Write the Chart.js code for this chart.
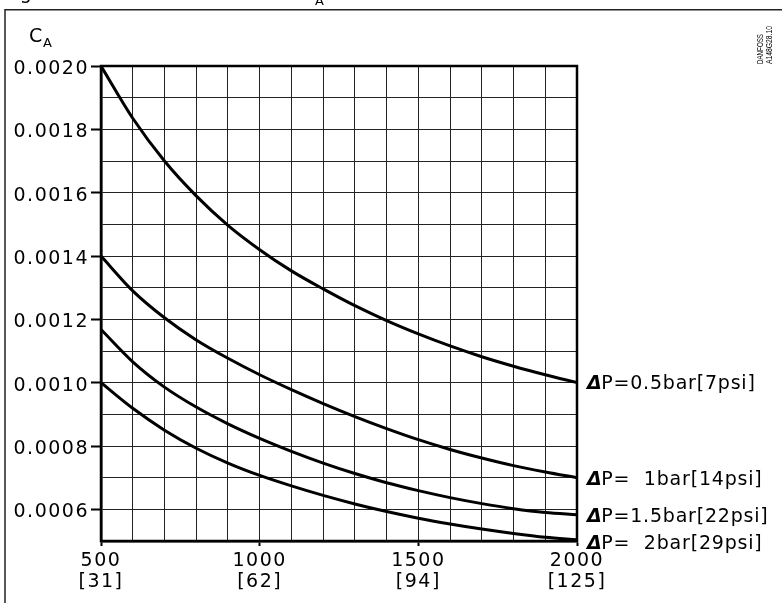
<!DOCTYPE html>
<html>
<head>
<meta charset="utf-8">
<script src="https://cdn.jsdelivr.net/npm/chart.js@4.4.1/dist/chart.umd.min.js"></script>
<style>
html,body{margin:0;padding:0;background:#fff;}
canvas{display:block;}
</style>
</head>
<body>
<canvas id="c" width="782" height="603"></canvas>
<script>
// ---- data ----
const flowRates = [500,600,700,800,900,1000,1100,1200,1300,1400,1500,1600,1700,1800,1900,2000];
const ca05bar = [0.002000,0.001835,0.001700,0.001590,0.001497,0.001420,0.001353,0.001296,0.001243,0.001196,0.001154,0.001116,0.001082,0.001052,0.001025,0.001000];
const ca1bar  = [0.001400,0.001290,0.001205,0.001135,0.001077,0.001025,0.000978,0.000934,0.000893,0.000855,0.000820,0.000789,0.000762,0.000738,0.000718,0.000700];
const ca15bar = [0.001168,0.001066,0.000986,0.000923,0.000870,0.000824,0.000783,0.000746,0.000713,0.000684,0.000659,0.000637,0.000618,0.000602,0.000590,0.000583];
const ca2bar  = [0.001000,0.000919,0.000850,0.000793,0.000746,0.000707,0.000674,0.000644,0.000617,0.000593,0.000572,0.000554,0.000538,0.000524,0.000512,0.000504];
const seriesDelta = '\u0394';
const seriesLabels = ['P=0.5bar[7psi]','P=  1bar[14psi]','P=1.5bar[22psi]','P=  2bar[29psi]'];
const xGridValues = [500,600,700,800,900,1000,1100,1200,1300,1400,1500,1600,1700,1800,1900,2000];
const xTickValues = [500,1000,1500,2000];
const xTickSub = ['[31]','[62]','[94]','[125]'];
const yGridValues = [0.0005,0.0006,0.0007,0.0008,0.0009,0.0010,0.0011,0.0012,0.0013,0.0014,0.0015,0.0016,0.0017,0.0018,0.0019,0.0020];
const yTickValues = [0.0006,0.0008,0.0010,0.0012,0.0014,0.0016,0.0018,0.0020];

// ---- styles ----
const FONT = '"DejaVu Sans", sans-serif';
const labelNudge = [1.5, 2, 2.5, 4];

const isXLabeled = v => xTickValues.some(t => Math.abs(t - v) < 1e-6);
const isYLabeled = v => yTickValues.some(t => Math.abs(t - v) < 1e-9);

const series = [ca05bar, ca1bar, ca15bar, ca2bar];

const deco = {
  id: 'deco',
  beforeDraw(chart) {
    chart.ctx.letterSpacing = '1.5px';
  },
  afterDatasetsDraw(chart) {
    const {ctx, chartArea: a, scales: {x, y}} = chart;
    ctx.save();
    // plot box
    ctx.strokeStyle = '#000';
    ctx.lineWidth = 2.5;
    ctx.strokeRect(a.left, a.top, a.right - a.left, a.bottom - a.top);

    // series labels at right
    ctx.fillStyle = '#000';
    ctx.textBaseline = 'middle';
    ctx.textAlign = 'left';
    chart.data.datasets.forEach((ds, i) => {
      const last = ds.data[ds.data.length - 1];
      const lx = x.getPixelForValue(last.x) + 10;
      const ly = y.getPixelForValue(last.y) + labelNudge[i];
      ctx.letterSpacing = '0px';
      ctx.font = 'italic bold 19px ' + FONT;
      ctx.fillText(seriesDelta, lx, ly);
      const dw = ctx.measureText(seriesDelta).width;
      ctx.letterSpacing = '0.8px';
      ctx.font = '19px ' + FONT;
      ctx.fillText(seriesLabels[i], lx + dw - 0.5, ly);
    });

    // axis name C_A
    ctx.letterSpacing = '0px';
    ctx.textBaseline = 'alphabetic';
    ctx.font = '19px ' + FONT;
    ctx.fillText('C', 29, 42);
    ctx.font = '13px ' + FONT;
    ctx.fillText('A', 43, 47);

    // clipped caption fragments at very top
    ctx.font = '19px ' + FONT;
    ctx.fillText('Fig', 5, -1);
    ctx.font = '13px ' + FONT;
    ctx.fillText('A', 315, 5);

    // outer frame
    ctx.strokeStyle = '#222';
    ctx.lineWidth = 1.5;
    ctx.beginPath();
    ctx.moveTo(5, 603);
    ctx.lineTo(5, 9.8);
    ctx.lineTo(782, 9.8);
    ctx.stroke();

    // rotated document code
    ctx.font = '9px "Liberation Sans", Arial, sans-serif';
    const drawRot = (txt, bx, targetLen) => {
      ctx.save();
      ctx.translate(bx, 64);
      ctx.rotate(-Math.PI / 2);
      const w = ctx.measureText(txt).width;
      ctx.scale(targetLen / w, 1);
      ctx.fillText(txt, 0, 0);
      ctx.restore();
    };
    drawRot('DANFOSS', 763, 30);
    drawRot('A148G28.10', 771.5, 38);
    ctx.restore();
  }
};

new Chart(document.getElementById('c'), {
  type: 'line',
  data: {
    datasets: series.map((vals, i) => ({
      label: seriesLabels[i],
      data: vals.map((v, j) => ({x: flowRates[j], y: v})),
      borderColor: '#000',
      borderWidth: 3,
      pointRadius: 0,
      tension: 0.4,
      cubicInterpolationMode: 'monotone',
      fill: false
    }))
  },
  options: {
    responsive: false,
    animation: false,
    devicePixelRatio: 1,
    layout: {padding: {top: 66, right: 205, left: 0, bottom: 0}},
    plugins: {legend: {display: false}, tooltip: {enabled: false}},
    scales: {
      x: {
        type: 'linear',
        min: 500, max: 2000,
        afterBuildTicks: s => { s.ticks = xGridValues.map(v => ({value: v})); },
        afterFit: s => { s.height = 62; },
        ticks: {
          autoSkip: false, maxRotation: 0, minRotation: 0,
          padding: 5,
          color: '#000',
          font: {family: FONT, size: 19, lineHeight: 1.1},
          callback: v => {
            const i = xTickValues.findIndex(t => Math.abs(t - v) < 1e-6);
            return i < 0 ? '' : [String(xTickValues[i]), xTickSub[i]];
          }
        },
        grid: {
          color: '#222', lineWidth: 1,
          tickLength: 5, tickWidth: 2,
          tickColor: c => (c.tick && isXLabeled(c.tick.value)) ? '#000' : 'rgba(0,0,0,0)'
        },
        border: {color: '#000', width: 2.5}
      },
      y: {
        type: 'linear',
        min: 0.0005, max: 0.0020,
        afterBuildTicks: s => { s.ticks = yGridValues.map(v => ({value: v})); },
        afterFit: s => { s.width = 101; },
        ticks: {
          autoSkip: false,
          padding: 2,
          labelOffset: 3,
          color: '#000',
          font: {family: FONT, size: 19},
          callback: v => isYLabeled(v) ? v.toFixed(4) : ''
        },
        grid: {
          color: '#222', lineWidth: 1,
          tickLength: 10, tickWidth: 2,
          tickColor: c => (c.tick && isYLabeled(c.tick.value)) ? '#000' : 'rgba(0,0,0,0)'
        },
        border: {color: '#000', width: 2.5}
      }
    }
  },
  plugins: [deco]
});
</script>
</body>
</html>
